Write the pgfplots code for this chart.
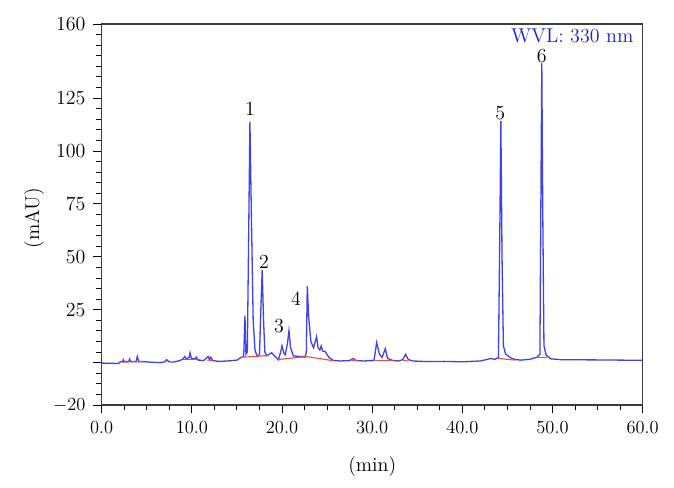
\documentclass[border=0pt]{standalone}
\usepackage{fontspec}
\usepackage{pgfplots}
\pgfplotsset{compat=1.18}
\definecolor{trace}{RGB}{65,65,235}
\definecolor{base}{RGB}{240,70,70}
\definecolor{wvl}{RGB}{30,30,210}
\definecolor{frame}{RGB}{60,60,60}
\newcommand{\chartfont}{\fontsize{13}{15}\selectfont}
\begin{document}
\begin{tikzpicture}[font=\chartfont]
\begin{axis}[
  scale only axis,
  width=351.65pt, height=247.65pt,
  xmin=0, xmax=60, ymin=-20, ymax=160,
  axis line style={frame, line width=0.8pt},
  tick style={black, line width=0.6pt},
  tick align=outside,
  xtick pos=bottom, ytick pos=left,
  major tick length=5.5pt, minor tick length=3.5pt,
  xtick={0,10,...,60},
  minor xtick={2.5,5,...,57.5},
  xticklabel style={font=\chartfont, yshift=-1.5pt, /pgf/number format/.cd, fixed, fixed zerofill, precision=1},
  ytick={-20,0,25,50,75,100,125,160},
  yticklabels={$-20$,,25,50,75,100,125,160},
  yticklabel style={font=\chartfont, xshift=-1.5pt},
  minor ytick={-15,-10,...,155},
  xlabel={(min)}, ylabel={(mAU)},
  every axis x label/.style={at={(axis description cs:0.5,-0.162)}, anchor=center, font=\chartfont},
  every axis y label/.style={at={(axis description cs:-0.125,0.49)}, anchor=center, rotate=90, font=\chartfont},
]
\addplot[trace, line width=0.85pt] coordinates {
(0.0,-0.2) (1.9,-0.4) (2.0,0.3) (2.3,0.5) (2.4,1.4) (2.5,0.5) (3.0,0.6) (3.1,1.7) (3.2,0.6)
(3.8,0.5) (3.95,2.9) (4.1,0.6) (4.6,0.5) (5.5,0.2) (6.5,0.0) (7.0,0.4) (7.2,1.4) (7.5,0.3)
(8.0,0.3) (8.5,0.8) (9.0,1.6) (9.2,2.9) (9.4,1.8) (9.7,2.5) (9.8,4.7) (9.95,2.0) (10.3,1.8)
(10.5,2.6) (10.7,1.2) (11.3,1.0) (11.8,2.9) (11.95,1.5) (12.1,2.6) (12.3,1.0) (13.0,0.6)
(14.0,0.8) (15.0,1.2) (15.5,2.6) (15.75,3.0) (15.89,22.2) (16.0,4.0) (16.15,5) (16.3,60)
(16.44,113.9) (16.6,70) (16.8,20) (17.0,6) (17.25,2.9) (17.5,4) (17.65,25) (17.8,43.8)
(17.95,20) (18.1,5) (18.3,3.2) (18.6,4.0) (18.85,4.7) (19.1,3.5) (19.6,1.4) (19.85,5)
(20.0,8) (20.2,4.5) (20.36,3.8) (20.6,9) (20.77,15.1) (20.95,7) (21.25,3.2) (21.8,3.0)
(22.55,2.6) (22.7,5) (22.8,36.2) (22.95,22) (23.2,10) (23.5,7) (23.83,12.3) (24.0,7)
(24.2,6) (24.35,7.9) (24.5,5.5) (24.8,5.2) (25.2,2.5) (25.7,1.0) (26.5,0.8) (27.5,1.0)
(27.9,2.0) (28.2,1.0) (29.0,0.8) (30.2,1.0) (30.5,9.5) (30.8,4) (31.1,2.5) (31.45,6.6)
(31.7,2.0) (32.3,1.0) (33.0,0.8) (33.4,1.5) (33.7,4.0) (34.0,1.5) (34.5,0.8) (36,0.5)
(38,0.6) (40,0.4) (42,0.8) (43.2,2.0) (43.6,1.5) (44.0,2.5) (44.15,60) (44.27,114.2)
(44.4,50) (44.55,8) (44.8,4) (45.3,2.5) (45.8,1.5) (46.5,1.2) (47.5,1.6) (48.3,2.6)
(48.6,4) (48.7,70) (48.81,141.4) (48.92,70) (49.05,8) (49.3,3.5) (49.8,1.8) (51,1.4)
(55,1.3) (60,1.1)
};
\addplot[base, line width=0.7pt] coordinates {(2.2,0.3) (4.6,0.4)};
\addplot[base, line width=0.7pt] coordinates {(9.0,1.4) (10.9,1.4)};
\addplot[base, line width=0.7pt] coordinates {(11.7,1.2) (12.4,1.1)};
\addplot[base, line width=0.7pt] coordinates {(15.7,2.6) (18.5,3.4)};
\addplot[base, line width=0.7pt] coordinates {(19.4,1.4) (22.7,2.9) (25.7,0.9)};
\addplot[base, line width=0.7pt] coordinates {(27.6,1.2) (28.4,1.0)};
\addplot[base, line width=0.7pt] coordinates {(30.3,1.0) (32.3,1.0)};
\addplot[base, line width=0.7pt] coordinates {(33.4,1.0) (34.1,0.8)};
\addplot[base, line width=0.7pt] coordinates {(44.0,2.0) (45.8,1.2)};
\addplot[base, line width=0.7pt] coordinates {(48.3,2.4) (49.4,2.4)};
\begin{scope}[every node/.style={inner sep=0pt}]
\node at (axis cs:16.44,119.7) {1};
\node at (axis cs:18.0,47.7) {2};
\node at (axis cs:19.66,17.5) {3};
\node at (axis cs:21.55,30.1) {4};
\node at (axis cs:44.2,117.8) {5};
\node at (axis cs:48.8,145.0) {6};
\node[anchor=east, text=wvl] at (axis cs:59.0,154.2) {WVL: 330 nm};
\end{scope}
\end{axis}
\path (-66.1pt,-53.95pt) rectangle (372pt,263.25pt);
\end{tikzpicture}
\end{document}
